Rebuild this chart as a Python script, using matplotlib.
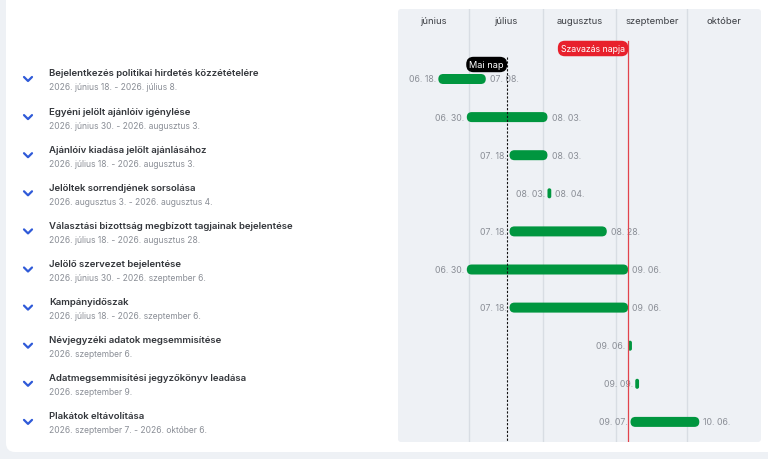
import datetime as dt
import matplotlib
matplotlib.use("Agg")
import matplotlib.pyplot as plt
import matplotlib.dates as mdates
from matplotlib.patches import FancyBboxPatch
from matplotlib.transforms import blended_transform_factory

plt.rcParams['font.family'] = ['Inter', 'DejaVu Sans']

# data
titles = [
    "Bejelentkezés politikai hirdetés közzétételére",
    "Egyéni jelölt ajánlóív igénylése",
    "Ajánlóív kiadása jelölt ajánlásához",
    "Jelöltek sorrendjének sorsolása",
    "Választási bizottság megbízott tagjainak bejelentése",
    "Jelölő szervezet bejelentése",
    "Kampányidőszak",
    "Névjegyzéki adatok megsemmisítése",
    "Adatmegsemmisítési jegyzőkönyv leadása",
    "Plakátok eltávolítása",
]
subtitles = [
    "2026. június 18. - 2026. július 8.",
    "2026. június 30. - 2026. augusztus 3.",
    "2026. július 18. - 2026. augusztus 3.",
    "2026. augusztus 3. - 2026. augusztus 4.",
    "2026. július 18. - 2026. augusztus 28.",
    "2026. június 30. - 2026. szeptember 6.",
    "2026. július 18. - 2026. szeptember 6.",
    "2026. szeptember 6.",
    "2026. szeptember 9.",
    "2026. szeptember 7. - 2026. október 6.",
]
starts = ["2026-06-18", "2026-06-30", "2026-07-18", "2026-08-03", "2026-07-18",
          "2026-06-30", "2026-07-18", "2026-09-06", "2026-09-09", "2026-09-07"]
ends = ["2026-07-08", "2026-08-03", "2026-08-03", "2026-08-04", "2026-08-28",
        "2026-09-06", "2026-09-06", None, None, "2026-10-06"]
months = ["június", "július", "augusztus", "szeptember", "október"]
month_starts = ["2026-06-01", "2026-07-01", "2026-08-01", "2026-09-01", "2026-10-01", "2026-11-01"]
today = "2026-07-17"
election = "2026-09-06"

def d(s):
    return mdates.date2num(dt.date.fromisoformat(s))

W, H = 768, 460
fig = plt.figure(figsize=(W / 100, H / 100), dpi=100)
fig.patch.set_facecolor("#eef1f5")

# background axes in pixel coords
bg = fig.add_axes([0, 0, 1, 1])
bg.set_xlim(0, W)
bg.set_ylim(H, 0)
bg.axis("off")
bg.add_patch(FancyBboxPatch((6, -30), 800, 483, boxstyle="round,pad=0,rounding_size=9",
                            fc="white", ec="none"))
bg.add_patch(FancyBboxPatch((398, 10), 363, 433, boxstyle="round,pad=0,rounding_size=3",
                            fc="#eef1f5", ec="none"))

row0, row_h = 80, 38.1
for i, (t, s) in enumerate(zip(titles, subtitles)):
    yc = row0 + row_h * i
    bg.text(49, yc - 6, t, fontsize=6.9, fontweight="semibold", color="#33363b",
            va="center", ha="left")
    bg.text(49, yc + 8, s, fontsize=6.1, color="#8a8e96", va="center", ha="left")
    bg.plot([24, 28, 32], [yc - 2, yc + 2, yc - 2], color="#2f5ad8", lw=1.6,
            solid_capstyle="round", solid_joinstyle="round")

# timeline axes
top_px, bot_px = 10, 443
ax = fig.add_axes([398 / W, (H - bot_px) / H, 363 / W, (bot_px - top_px) / H])
ax.patch.set_visible(False)
ax.set_xlim(d(month_starts[0]), d(month_starts[-1]))
ax.set_ylim((bot_px - row0) / row_h, (top_px - row0) / row_h)
ax.axis("off")

px_per_day = 363 / (d(month_starts[-1]) - d(month_starts[0]))
aspect = px_per_day / row_h
bar_h = 10 / row_h
radius = 5 / px_per_day
min_w = 3.8 / px_per_day

for m in month_starts[1:-1]:
    ax.axvline(d(m), color="#d8dde3", lw=1, zorder=1)

tr = blended_transform_factory(ax.transData, ax.transAxes)
for i, name in enumerate(months):
    xc = (d(month_starts[i]) + d(month_starts[i + 1])) / 2
    ax.text(xc, 1 - 11 / (bot_px - top_px), name, transform=tr, ha="center",
            va="center", fontsize=6.8, color="#3c3f44")

green = "#00963f"
for i, (s, e) in enumerate(zip(starts, ends)):
    x0 = d(s)
    x1 = d(e) if e else x0 + 1
    w = max(x1 - x0, min_w)
    r = min(radius, w / 2)
    ax.add_patch(FancyBboxPatch((x0, i - bar_h / 2), w, bar_h,
                                boxstyle=f"round,pad=0,rounding_size={r}",
                                mutation_aspect=aspect, fc=green, ec="none", zorder=3))
    lab0 = dt.date.fromisoformat(s).strftime("%m. %d.")
    ax.annotate(lab0, (x0, i), xytext=(-1.8, 0), textcoords="offset points",
                ha="right", va="center", fontsize=6.3, color="#8a8e96", zorder=4)
    if e:
        lab1 = dt.date.fromisoformat(e).strftime("%m. %d.")
        ax.annotate(lab1, (x0 + w, i), xytext=(3, 0), textcoords="offset points",
                    ha="left", va="center", fontsize=6.3, color="#8a8e96", zorder=4)

# election day and today markers
y_el = (49.5 - row0) / row_h
y_td = (65.5 - row0) / row_h
ax.plot([d(election), d(election)], [y_el - 7.5 / row_h, ax.get_ylim()[0]],
        color="#e2434c", lw=0.9, zorder=5)
ax.plot([d(today), d(today)], [y_td - 7.5 / row_h, ax.get_ylim()[0]],
        color="#111111", lw=0.8, ls=(0, (2, 1.5)), zorder=5)
ax.annotate("Szavazás napja", (d(election), y_el), xytext=(-2.2, 0),
            textcoords="offset points", ha="right", va="center", fontsize=6.3,
            color="white", zorder=6,
            bbox=dict(boxstyle="round,pad=0.37,rounding_size=0.8", fc="#e8202c", ec="none"))
ax.annotate("Mai nap", (d(today), y_td), xytext=(-2.3, 0),
            textcoords="offset points", ha="right", va="center", fontsize=6.6,
            color="white", zorder=6,
            bbox=dict(boxstyle="round,pad=0.35,rounding_size=0.8", fc="#000000", ec="none"))

fig.savefig("out.png", dpi=100)
